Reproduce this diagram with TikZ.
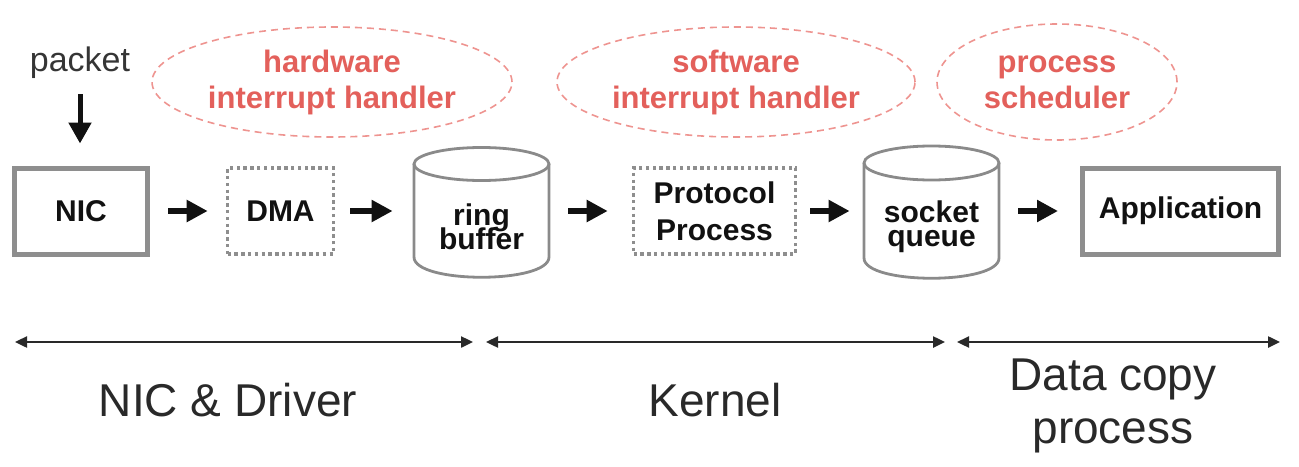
\documentclass[tikz,border=0pt]{standalone}
\usepackage{fontspec}
\setmainfont{Liberation Sans}
\usetikzlibrary{arrows.meta,shapes.geometric}
\definecolor{hred}{HTML}{E3605B}
\definecolor{dred}{HTML}{EE9490}
\definecolor{boxgray}{HTML}{8E8E8E}
\definecolor{cylgray}{HTML}{8A8A8A}
\definecolor{ink}{HTML}{111111}
\begin{document}
\lineskiplimit=-100pt\relax
\begin{tikzpicture}[x=0.5pt,y=-0.5pt,
  solidbox/.style={draw=boxgray, line width=2.5pt, minimum width=#1, minimum height=43pt, inner sep=0pt, font=\bfseries\fontsize{15}{18.5}\selectfont, align=center, text=ink},
  dotbox/.style={draw=boxgray, line width=1.8pt, dash pattern=on 1.7pt off 1.7pt, minimum width=#1, minimum height=43pt, inner sep=0pt, font=\bfseries\fontsize{15}{18.5}\selectfont, align=center, text=ink},
  cylbox/.style={minimum width=68.5pt, minimum height=65.5pt, inner sep=0pt},
  cyltext/.style={font=\bfseries\fontsize{15}{12}\selectfont, align=center, inner sep=0pt, text=ink},
  cylline/.style={draw=cylgray, line width=1.4pt},
  cloud/.style={ellipse, draw=dred, line width=0.8pt, dash pattern=on 3.5pt off 2.5pt, inner sep=0pt, text=hred, font=\bfseries\fontsize{15.5}{18}\selectfont, align=center},
  flow/.style={draw=ink, line width=3pt, -{Triangle[length=10.5pt,width=10.5pt]}},
  vflow/.style={draw=ink, line width=2.5pt, -{Triangle[length=10.5pt,width=11pt]}},
  span/.style={draw=ink!90, line width=1.2pt, {Triangle[length=6pt,width=5.5pt]}-{Triangle[length=6pt,width=5.5pt]}},
  lab/.style={font=\fontsize{23}{26.5}\selectfont, align=center, inner sep=0pt, text=ink!90},
]
\useasboundingbox (0,0) rectangle (1299,466);

% packet
\node[font=\fontsize{17}{20}\selectfont, inner sep=0pt, text=ink!85] (packet) at (80,63) {packet};
\coordinate (pk) at (80,94);

% boxes
\node[solidbox=66.5pt] (nic) at (81,211) {NIC};
\node[dotbox=53pt] (dma) at (280.5,211) {DMA};
\node[cylbox] (rb) at (481.5,211) {};
\node[dotbox=81pt] (proto) at (714.5,211) {Protocol\\Process};
\node[cylbox] (sq) at (931.5,211) {};
\node[solidbox=98pt] (app) at (1180.5,211) {Application};

% cylinders
\draw[cylline] (414,164) -- (414,257) .. controls (414,284) and (549,284) .. (549,257) -- (549,164);
\draw[cylline] (481.5,164) ellipse [x radius=33.75pt, y radius=8.25pt];
\node[cyltext] (rbl) at (481.5,227) {ring\\buffer};

\draw[cylline] (864,163) -- (864,258) .. controls (864,285) and (999,285) .. (999,258) -- (999,163);
\draw[cylline] (931.5,163) ellipse [x radius=33.75pt, y radius=8.5pt];
\node[cyltext] (sql) at (931.5,227) {socket\\queue};

% clouds
\node[cloud, minimum width=180pt, minimum height=55pt] (hw) at (332,82) {hardware\\interrupt handler};
\node[cloud, minimum width=179pt, minimum height=55pt] (sw) at (736,82) {software\\interrupt handler};
\node[cloud, minimum width=120pt, minimum height=58pt] (ps) at (1057,82) {process\\scheduler};

% flow arrows
\draw[vflow, shorten >=11pt] (pk) -- (pk |- nic.north);
\draw[flow, shorten <=9pt, shorten >=9pt] (nic.east) -- (dma.west);
\draw[flow, shorten <=7.5pt, shorten >=10pt] (dma.east) -- (rb.west);
\draw[flow, shorten <=9pt, shorten >=12pt] (rb.east) -- (proto.west);
\draw[flow, shorten <=6.5pt, shorten >=6.5pt] (proto.east) -- (sq.west);
\draw[flow, shorten <=9pt, shorten >=11pt] (sq.east) -- (app.west);

% spans
\coordinate (s1a) at (15,342);
\coordinate (s1b) at (473,342);
\coordinate (s2a) at (486,342);
\coordinate (s2b) at (945,342);
\coordinate (s3a) at (957,342);
\coordinate (s3b) at (1280,342);
\draw[span] (s1a) -- (s1b);
\draw[span] (s2a) -- (s2b);
\draw[span] (s3a) -- (s3b);

\node[lab] (l1) at (228,400) {NIC \& Driver};
\node[lab] (l2) at (715,400) {Kernel};
\node[lab] (l3) at (1113,406) {Data copy\\process};
\end{tikzpicture}
\end{document}
